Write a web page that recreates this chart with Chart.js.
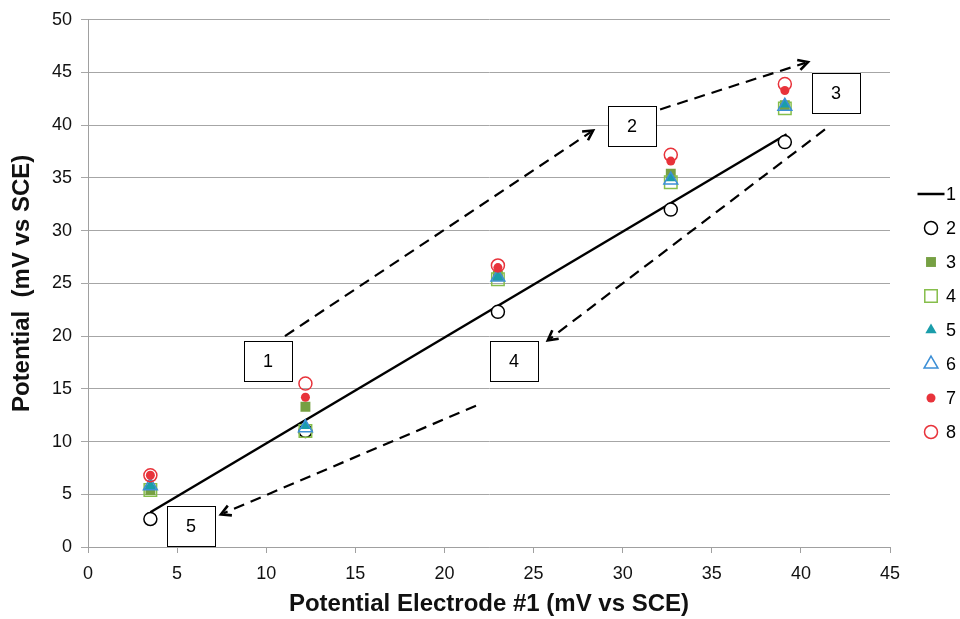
<!DOCTYPE html>
<html><head><meta charset="utf-8">
<script src="https://cdn.jsdelivr.net/npm/chart.js@4.4.0/dist/chart.umd.min.js"></script>
<style>html,body{margin:0;padding:0;background:#fff}#wrap{width:960px;height:619px}</style>
</head><body><div id="wrap"><canvas id="c" width="960" height="619"></canvas></div>
<script>
// ---- data ----
const seriesNames = ['1','2','3','4','5','6','7','8'];
const xValues = [3.5, 12.2, 23.0, 32.7, 39.1];
const line1X = [3.5, 39.2];
const line1Y = [3.3, 39.15];
const series2 = [2.65, 11.0, 22.3, 32.0, 38.4];
const series3 = [5.4, 13.3, 25.7, 35.4, 41.9];
const series4 = [5.4, 11.0, 25.4, 34.6, 41.6];
const series5 = [5.8, 11.5, 25.6, 35.0, 42.0];
const series6 = [5.8, 11.3, 25.6, 34.8, 41.8];
const series7 = [6.8, 14.2, 26.5, 36.6, 43.3];
const series8 = [6.8, 15.5, 26.7, 37.2, 43.9];
const xTicks = [0,5,10,15,20,25,30,35,40,45];
const yTicks = [0,5,10,15,20,25,30,35,40,45,50];
// annotations (data units)
const arrowFromX = [11.05, 32.1, 41.35, 21.77];
const arrowFromY = [20.0, 41.5, 39.6, 13.4];
const arrowToX   = [28.34, 40.4, 25.8, 7.46];
const arrowToY   = [39.5, 46.0, 19.6, 3.1];
const boxLabels  = ['1','2','3','4','5'];
const boxX       = [10.1, 30.52, 41.97, 23.9, 5.78];
const boxY       = [17.6, 39.9, 43.1, 17.6, 2.0];

// ---- styles ----
const FONT = '"Liberation Sans", Arial, sans-serif';
const GREEN = '#76A043', GREEN_L = '#86BE4B', TEAL = '#1A9DAA', BLUE = '#3C8FD6', RED = '#E8333B';
const styles = [
  {type:'line', color:'#000', width:2.5},
  {type:'circle', r:6.5, fill:'#fff', stroke:'#000', bw:1.5},
  {type:'rect', r:7, fill:GREEN, stroke:GREEN, bw:0},
  {type:'rect', r:8.8, fill:'rgba(0,0,0,0)', stroke:GREEN_L, bw:1.5},
  {type:'triangle', r:6.5, fill:TEAL, stroke:TEAL, bw:0},
  {type:'triangle', r:8, fill:'rgba(0,0,0,0)', stroke:BLUE, bw:1.5},
  {type:'circle', r:4.5, fill:RED, stroke:RED, bw:0},
  {type:'circle', r:6.5, fill:'rgba(0,0,0,0)', stroke:RED, bw:1.5}
];
const ySeries = [null, series2, series3, series4, series5, series6, series7, series8];

const datasets = [];
datasets.push({
  label: seriesNames[0],
  data: line1X.map((x,i)=>({x, y: line1Y[i]})),
  showLine: true, borderColor: '#000', borderWidth: 2.5, pointRadius: 0, order: 8
});
for (let s = 1; s < 8; s++) {
  const st = styles[s];
  datasets.push({
    label: seriesNames[s],
    data: xValues.map((x,i)=>({x, y: ySeries[s][i]})),
    showLine: false,
    pointStyle: st.type, pointRadius: st.r, pointHoverRadius: st.r,
    backgroundColor: st.fill, borderColor: st.stroke, pointBorderWidth: st.bw, borderWidth: st.bw,
    order: 8 - s
  });
}

function drawMarker(ctx, st, x, y) {
  ctx.save();
  ctx.beginPath();
  if (st.type === 'line') {
    ctx.strokeStyle = st.color; ctx.lineWidth = st.width;
    ctx.moveTo(x - 13.5, y); ctx.lineTo(x + 13.5, y); ctx.stroke();
    ctx.restore(); return;
  }
  if (st.type === 'circle') ctx.arc(x, y, st.r, 0, Math.PI*2);
  else if (st.type === 'rect') { const h = st.r*Math.SQRT1_2; ctx.rect(x-h, y-h, 2*h, 2*h); }
  else if (st.type === 'triangle') {
    for (let k=0;k<3;k++){ const a = -Math.PI/2 + k*2*Math.PI/3; const px = x + st.r*Math.cos(a), py = y + st.r*Math.sin(a); k?ctx.lineTo(px,py):ctx.moveTo(px,py);} 
    ctx.closePath();
  }
  ctx.fillStyle = st.fill; ctx.fill();
  if (st.bw > 0) { ctx.strokeStyle = st.stroke; ctx.lineWidth = st.bw; ctx.stroke(); }
  ctx.restore();
}

const annot = {
  id: 'annot',
  afterDatasetsDraw(chart) {
    const ctx = chart.ctx, xs = chart.scales.x, ys = chart.scales.y;
    ctx.save();
    for (let i = 0; i < arrowFromX.length; i++) {
      const x1 = xs.getPixelForValue(arrowFromX[i]), y1 = ys.getPixelForValue(arrowFromY[i]);
      const x2 = xs.getPixelForValue(arrowToX[i]), y2 = ys.getPixelForValue(arrowToY[i]);
      const ang = Math.atan2(y2-y1, x2-x1);
      ctx.strokeStyle = '#000'; ctx.lineWidth = 2.2;
      ctx.setLineDash([11, 7]);
      ctx.beginPath(); ctx.moveTo(x1, y1); ctx.lineTo(x2 - 3*Math.cos(ang), y2 - 3*Math.sin(ang)); ctx.stroke();
      ctx.setLineDash([]);
      ctx.lineWidth = 2.6; ctx.lineJoin = 'miter';
      const L = 11, spread = 0.5;
      ctx.beginPath();
      ctx.moveTo(x2 - L*Math.cos(ang - spread), y2 - L*Math.sin(ang - spread));
      ctx.lineTo(x2, y2);
      ctx.lineTo(x2 - L*Math.cos(ang + spread), y2 - L*Math.sin(ang + spread));
      ctx.stroke();
    }
    ctx.font = '18px ' + FONT; ctx.textAlign = 'center'; ctx.textBaseline = 'middle';
    for (let i = 0; i < boxLabels.length; i++) {
      const cx = xs.getPixelForValue(boxX[i]), cy = ys.getPixelForValue(boxY[i]);
      ctx.fillStyle = '#fff'; ctx.fillRect(cx-24, cy-20, 48, 40);
      ctx.strokeStyle = '#000'; ctx.lineWidth = 1; ctx.strokeRect(Math.round(cx-24)+0.5, Math.round(cy-20)+0.5, 48, 40);
      ctx.fillStyle = '#000'; ctx.fillText(boxLabels[i], cx, cy+1);
    }
    ctx.restore();
  },
  afterDraw(chart) {
    const ctx = chart.ctx;
    ctx.save();
    ctx.font = '18px ' + FONT; ctx.textAlign = 'left'; ctx.textBaseline = 'middle'; ctx.fillStyle = '#000';
    const y0 = 194, dy = 34.0;
    for (let s = 0; s < 8; s++) {
      const y = y0 + s*dy;
      drawMarker(ctx, styles[s], 931, y);
      ctx.fillText(seriesNames[s], 946, y + 1);
    }
    ctx.restore();
  }
};

new Chart(document.getElementById('c'), {
  type: 'scatter',
  data: { datasets },
  options: {
    responsive: false, animation: false, devicePixelRatio: 1,
    layout: { padding: { top: 18, right: 70, left: 0, bottom: 0 } },
    plugins: { legend: { display: false }, tooltip: { enabled: false } },
    scales: {
      x: {
        type: 'linear', min: 0, max: 45,
        afterBuildTicks: s => { s.ticks = xTicks.map(v => ({value: v})); },
        afterFit: s => { s.height = 72; },
        grid: { drawOnChartArea: false, drawTicks: true, tickLength: 6, color: '#A0A0A0', lineWidth: 1 },
        border: { display: true, color: '#A0A0A0', width: 1 },
        ticks: { color: '#111', font: { size: 18, family: FONT }, padding: 10 },
        title: { display: true, text: 'Potential Electrode #1 (mV vs SCE)', color: '#111',
          font: { size: 24, weight: 'bold', family: FONT }, padding: { top: 0, bottom: 0 } }
      },
      y: {
        type: 'linear', min: 0, max: 50,
        afterBuildTicks: s => { s.ticks = yTicks.map(v => ({value: v})); },
        afterFit: s => { s.width = 88; },
        grid: { drawTicks: true, tickLength: 7, color: '#A6A6A6', lineWidth: 1 },
        border: { display: true, color: '#A0A0A0', width: 1 },
        ticks: { color: '#111', font: { size: 18, family: FONT }, padding: 9 },
        title: { display: true, text: 'Potential  (mV vs SCE)', color: '#111',
          font: { size: 24, weight: 'bold', family: FONT }, padding: { top: 8, bottom: 8 } }
      }
    }
  },
  plugins: [annot]
});
</script>
</body></html>
